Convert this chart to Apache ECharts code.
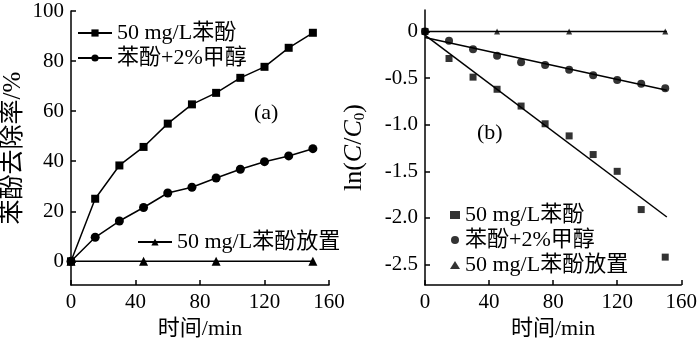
<!DOCTYPE html>
<html><head><meta charset="utf-8">
<script src="https://cdn.jsdelivr.net/npm/echarts@6/dist/echarts.min.js"></script>
<style>html,body{margin:0;padding:0;background:#fff}#c{width:700px;height:345px}</style>
</head><body><div id="c"></div>
<script>
const times = [0,15,30,45,60,75,90,105,120,135,150];
const removalPhenol = [0,25,38.3,45.7,55,62.7,67.3,73.3,77.7,85.3,91.3];
const removalMethanol = [0,9.6,16.1,21.5,27.3,29.6,33.3,36.8,39.8,42.1,45];
const storeTimes = [0,45,90,150];
const removalStore = [0,0,0,0];
const lnPhenol = [0,-0.29,-0.49,-0.62,-0.80,-0.99,-1.12,-1.32,-1.50,-1.91,-2.42];
const lnMethanol = [0,-0.10,-0.19,-0.26,-0.33,-0.36,-0.41,-0.47,-0.52,-0.56,-0.61];
const lnStore = [0,0,0,0];
const fitX = [0,151];
const fitPhenol = [-0.04,-1.99];
const fitMethanol = [-0.065,-0.63];
const fitStore = [0,0];
const xTicks = [0,40,80,120,160];
const yTicksA = [0,20,40,60,80,100];
const yTicksB = [-2.5,-2,-1.5,-1,-0.5,0];
const names = ['50 mg/L苯酚','苯酚+2%甲醇','50 mg/L苯酚放置'];

const FONT = '"Liberation Serif","Times New Roman","Noto Sans CJK SC",serif';
const pair = (xs, ys) => xs.map((x,i)=>[x, ys[i]]);
const axisCommon = {
  axisLine:{show:true,onZero:false,lineStyle:{color:'#000',width:1.5}},
  axisTick:{show:true,inside:true,length:5,lineStyle:{color:'#000',width:1.5}},
  splitLine:{show:false},
  axisLabel:{color:'#000',fontFamily:FONT,fontSize:21,margin:7}
};
function xAxis(gi){
  return Object.assign({}, axisCommon, {
    type:'value', gridIndex:gi, min:0, max:160, interval:40,
    name:'时间/min', nameLocation:'middle', nameGap:31,
    nameTextStyle:{color:'#000',fontFamily:FONT,fontSize:22},
    axisTick:Object.assign({}, axisCommon.axisTick)
  });
}
const chart = echarts.init(document.getElementById('c'), null, {renderer:'canvas'});
chart.setOption({
  animation:false,
  backgroundColor:'#fff',
  grid:[
    {left:67,top:11,width:262,height:276},
    {left:425,top:10,width:262,height:276}
  ],
  xAxis:[xAxis(0), xAxis(1)],
  yAxis:[
    Object.assign({}, axisCommon, {
      type:'value', gridIndex:0, min:-9.5, max:100,
      axisLabel:Object.assign({}, axisCommon.axisLabel, {customValues:yTicksA}),
      axisTick:Object.assign({}, axisCommon.axisTick, {customValues:yTicksA}),
      name:'苯酚去除率/%', nameLocation:'middle', nameGap:45,
      nameTextStyle:{color:'#000',fontFamily:FONT,fontSize:25}
    }),
    Object.assign({}, axisCommon, {
      type:'value', gridIndex:1, min:-2.72, max:0.23,
      axisLabel:Object.assign({}, axisCommon.axisLabel, {customValues:yTicksB,
        formatter:v=> v===0 ? '0' : v.toFixed(1)}),
      axisTick:Object.assign({}, axisCommon.axisTick, {customValues:yTicksB}),
      name:'{n|ln(}{i|C}{n|/}{i|C}{s|0}{n|)}', nameLocation:'middle', nameGap:57,
      nameTextStyle:{color:'#000',fontFamily:FONT,fontSize:26,
        rich:{
          n:{fontFamily:FONT,fontSize:26,color:'#000'},
          i:{fontFamily:FONT,fontSize:26,fontStyle:'italic',color:'#000'},
          s:{fontFamily:FONT,fontSize:15,color:'#000',padding:[12,0,0,0]}
        }}
    })
  ],
  legend:[
    {data:[names[0],names[1]], orient:'vertical', left:72, top:16, itemWidth:34, itemHeight:9, itemGap:1,
     textStyle:{color:'#000',fontFamily:FONT,fontSize:22,lineHeight:24}},
    {data:[names[2]+' '], orient:'vertical', left:132, top:225, itemWidth:34, itemHeight:9, itemGap:1,
     textStyle:{color:'#000',fontFamily:FONT,fontSize:22,lineHeight:24}},
    {data:[names[0]+'  ',names[1]+'  ',names[2]+'  '], orient:'vertical', left:445, top:198, itemWidth:10, itemHeight:8, itemGap:1,
     textStyle:{color:'#000',fontFamily:FONT,fontSize:22,lineHeight:24}}
  ],
  graphic:[
    {type:'text', left:254, top:102, style:{text:'(a)', font:'22px '+FONT, fill:'#000'}},
    {type:'text', left:477, top:122, style:{text:'(b)', font:'22px '+FONT, fill:'#000'}}
  ],
  series:[
    {name:names[0], type:'line', xAxisIndex:0, yAxisIndex:0, data:pair(times, removalPhenol),
     symbol:'rect', symbolSize:8, lineStyle:{color:'#000',width:1.5}, itemStyle:{color:'#000'}},
    {name:names[1], type:'line', xAxisIndex:0, yAxisIndex:0, data:pair(times, removalMethanol),
     symbol:'circle', symbolSize:9, lineStyle:{color:'#000',width:1.5}, itemStyle:{color:'#000'}},
    {name:names[2]+' ', type:'line', xAxisIndex:0, yAxisIndex:0, data:pair(storeTimes, removalStore),
     symbol:'triangle', symbolSize:9, lineStyle:{color:'#000',width:1.5}, itemStyle:{color:'#000'}},
    {name:names[0]+'  ', type:'scatter', xAxisIndex:1, yAxisIndex:1, data:pair(times, lnPhenol),
     symbol:'rect', symbolSize:7, itemStyle:{color:'#000'}},
    {name:names[1]+'  ', type:'scatter', xAxisIndex:1, yAxisIndex:1, data:pair(times, lnMethanol),
     symbol:'circle', symbolSize:8, itemStyle:{color:'#000'}},
    {name:names[2]+'  ', type:'scatter', xAxisIndex:1, yAxisIndex:1, data:pair(storeTimes, lnStore),
     symbol:'triangle', symbolSize:6, itemStyle:{color:'#000'}},
    {type:'line', xAxisIndex:1, yAxisIndex:1, data:pair(fitX, fitPhenol), showSymbol:false, silent:true,
     lineStyle:{color:'#000',width:1.5}},
    {type:'line', xAxisIndex:1, yAxisIndex:1, data:pair(fitX, fitMethanol), showSymbol:false, silent:true,
     lineStyle:{color:'#000',width:1.5}},
    {type:'line', xAxisIndex:1, yAxisIndex:1, data:pair(fitX, fitStore), showSymbol:false, silent:true,
     lineStyle:{color:'#000',width:1.5}}
  ]
});
</script></body></html>
